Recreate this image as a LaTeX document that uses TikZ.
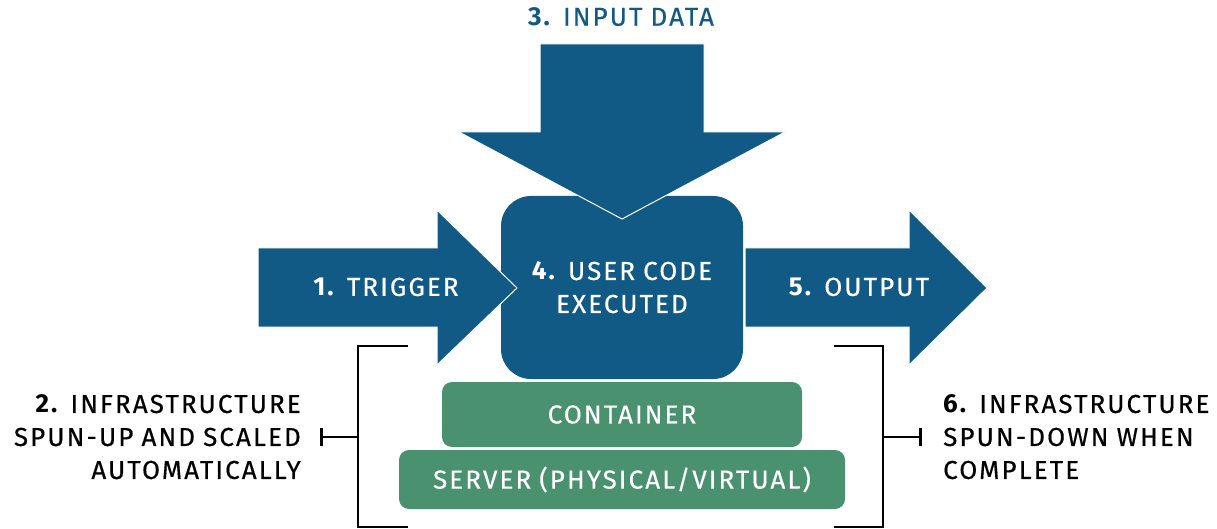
\documentclass[tikz,border=0pt]{standalone}
\usepackage{fontspec}
\setmainfont{Fira Sans}[LetterSpace=8, WordSpace=0.9, UprightFeatures={FakeBold=0.4}]
\usetikzlibrary{arrows.meta}
\definecolor{flowblue}{RGB}{18,90,134}
\definecolor{stackgreen}{RGB}{74,145,112}
\begin{document}
\begin{tikzpicture}[x=1pt,y=-1pt,
  lbl/.style={font=\fontsize{26}{33}\selectfont, inner sep=0pt},
  flow/.style={fill=flowblue, draw=white, line width=1pt},
  layer/.style={fill=stackgreen, rounded corners=10pt, text=white, inner sep=0pt,
                font=\fontsize{26}{33}\selectfont},
  brace/.style={line width=2.8pt, black}
]
\useasboundingbox (0,0) rectangle (1217,529);

% central compute box
\node[fill=flowblue, rounded corners=30pt, minimum width=242pt, minimum height=183pt,
      inner sep=0pt, text=white, align=center, font=\fontsize{26}{33}\selectfont]
      (code) at (622,287.5) {\textbf{4.} USER CODE\\EXECUTED};

% trigger arrow (left)
\path[flow] (258,248) -- (437,248) -- (437,210) -- (517,288) -- (437,365)
            -- (437,327) -- (258,327) -- cycle;
% input arrow (top)
\path[flow] (540,44) -- (704,44) -- (704,132) -- (785,132) -- (622,219)
            -- (459,132) -- (540,132) -- cycle;
% output arrow (right)
\path[flow] (745,248) -- (909,248) -- (909,210) -- (987,288) -- (909,365)
            -- (909,327) -- (745,327) -- cycle;

\node[lbl, text=white] (trigger) at (386,287) {\textbf{1.} TRIGGER};
\node[lbl, text=flowblue] (input) at (621,17) {\textbf{3.} INPUT DATA};
\node[lbl, text=white] (output) at (859,287) {\textbf{5.} OUTPUT};

% infrastructure layers
\node[layer, minimum width=360pt, minimum height=65pt] (container) at (622,414.5) {CONTAINER};
\node[layer, minimum width=446pt, minimum height=59pt] (server) at (622,479.5) {SERVER (PHYSICAL/VIRTUAL)};

% side notes
\node[lbl, align=right, anchor=east] (infraup) at (301,437)
  {\textbf{2.} INFRASTRUCTURE\\SPUN-UP AND SCALED\\AUTOMATICALLY};
\node[lbl, align=left, anchor=west] (infradown) at (943,437)
  {\textbf{6.} INFRASTRUCTURE\\SPUN-DOWN WHEN\\COMPLETE};

% brackets
\coordinate (lmid) at (358,437);
\coordinate (rmid) at (883,437);
\draw[brace] (408,346) -- (358,346) -- (358,527) -- (408,527);
\draw[brace] (834,346) -- (883,346) -- (883,527) -- (834,527);
\draw[brace, -{Bar[width=18pt]}] (lmid) -- ([xshift=19pt]infraup.east);
\draw[brace, -{Bar[width=18pt]}] (rmid) -- ([xshift=-21pt]infradown.west);
\end{tikzpicture}
\end{document}
